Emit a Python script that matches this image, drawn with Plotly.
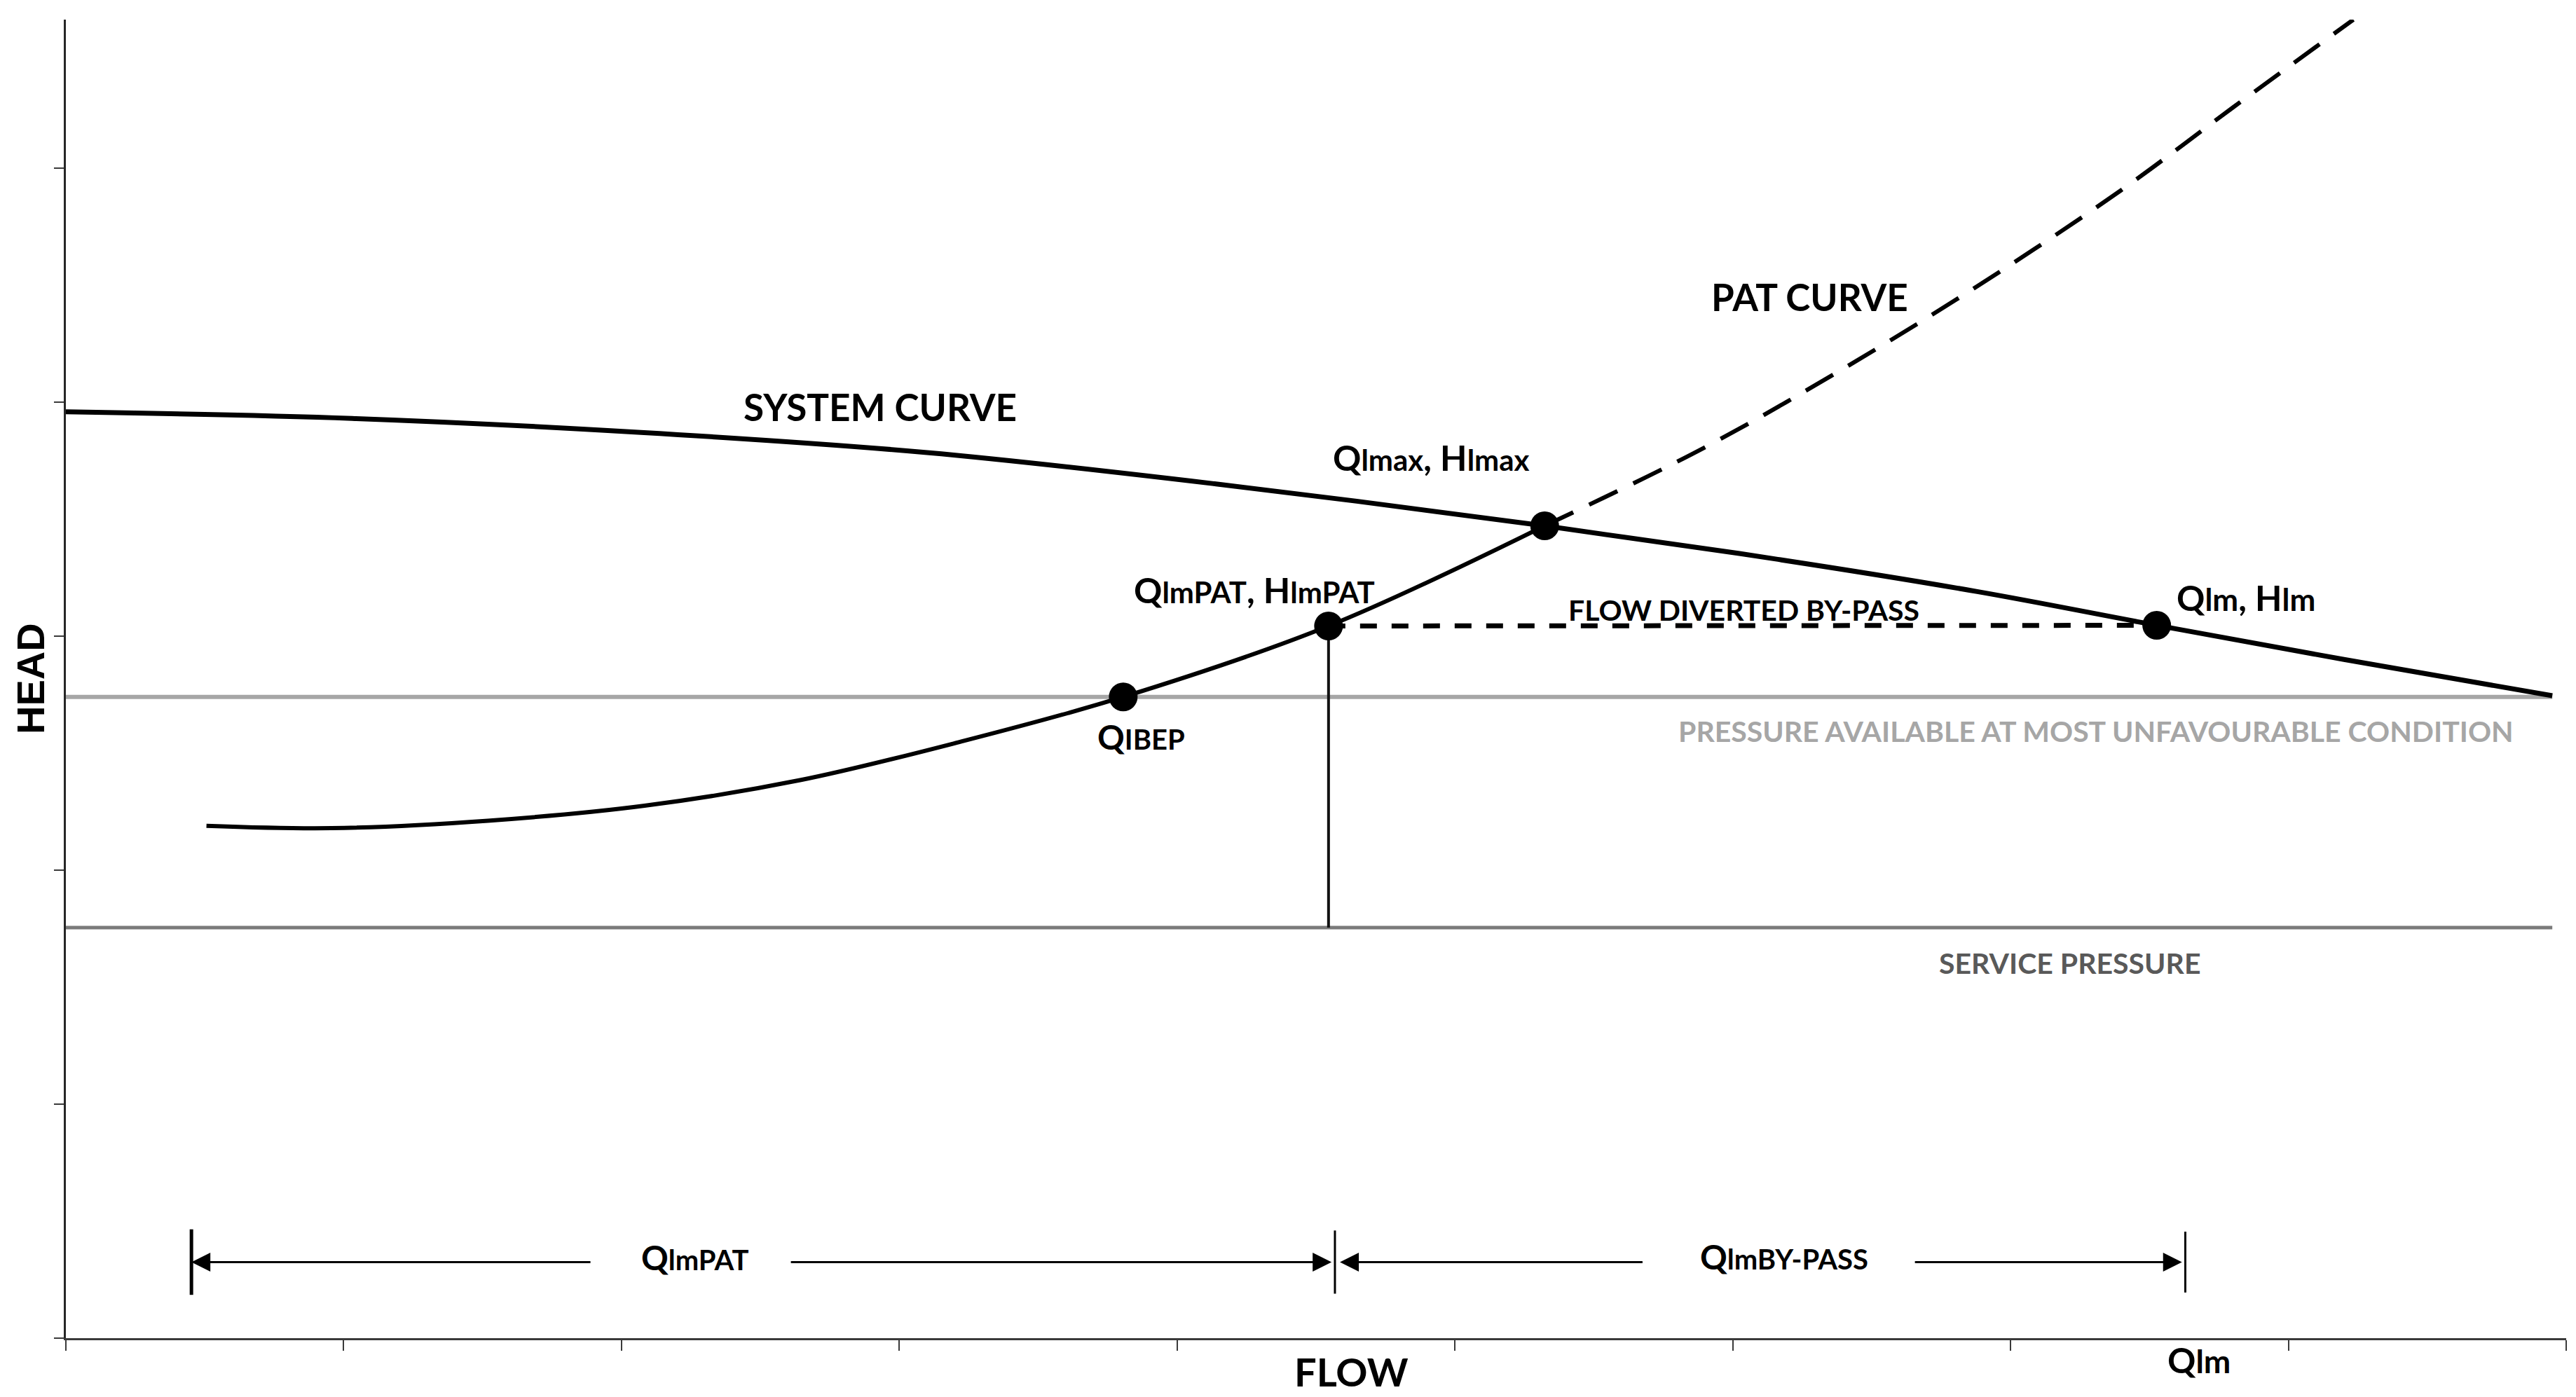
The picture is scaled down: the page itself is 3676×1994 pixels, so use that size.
import plotly.graph_objects as go

# ---------------- data ----------------
# System curve (flow, head)
system_flow = [0.0, 1.03, 2.07, 3.10, 4.14, 5.323, 6.15, 6.88, 7.526, 8.20, 8.95]
system_head = [3.958, 3.930, 3.870, 3.784, 3.650, 3.471, 3.330, 3.190, 3.046, 2.900, 2.745]

# PAT curve, solid part (up to the max point)
pat_flow = [0.506, 0.956, 1.519, 2.083, 2.646, 3.209, 3.806, 4.545, 5.323]
pat_head = [2.189, 2.179, 2.211, 2.275, 2.385, 2.545, 2.740, 3.043, 3.471]

# PAT curve, dashed extension
pat_ext_flow = [5.323, 5.891, 6.393, 6.896, 7.399, 7.801, 8.234]
pat_ext_head = [3.471, 3.801, 4.139, 4.507, 4.906, 5.259, 5.634]

# Characteristic points
point_names = ["QIBEP", "QlmPAT", "Qlmax", "Qlm"]
point_flow = [3.806, 4.545, 5.323, 7.526]
point_head = [2.740, 3.043, 3.471, 3.046]

# Reference pressure levels
pressure_available = 2.74
service_pressure = 1.754
flow_end = 8.95

# Flow ranges shown at the bottom
range_bounds = [0.452, 4.568, 7.629]
range_level = 0.325

# axes
x_ticks = [0, 1, 2, 3, 4, 5, 6, 7, 8, 9]
y_ticks = [0, 1, 2, 3, 4, 5]
x_max = 9
y_max = 5.634

FONT = "Lato"
BLACK = "#000000"

fig = go.Figure()

# horizontal reference lines
fig.add_trace(go.Scatter(x=[0, flow_end], y=[pressure_available, pressure_available],
                         mode="lines", line=dict(color="#a6a6a6", width=6), hoverinfo="skip"))
fig.add_trace(go.Scatter(x=[0, flow_end], y=[service_pressure, service_pressure],
                         mode="lines", line=dict(color="#7a7a7a", width=5), hoverinfo="skip"))

# vertical line from QlmPAT down to service pressure
fig.add_trace(go.Scatter(x=[point_flow[1], point_flow[1]], y=[service_pressure, point_head[1]],
                         mode="lines", line=dict(color="#111111", width=4), hoverinfo="skip"))

# by-pass dashed line
fig.add_trace(go.Scatter(x=[point_flow[1], point_flow[3]], y=[point_head[1], point_head[3]],
                         mode="lines", line=dict(color=BLACK, width=7, dash="24px,21px"), hoverinfo="skip"))

# system curve
fig.add_trace(go.Scatter(x=system_flow, y=system_head, mode="lines",
                         line=dict(color=BLACK, width=7, shape="spline", smoothing=1.0), hoverinfo="skip"))

# PAT curve
fig.add_trace(go.Scatter(x=pat_flow, y=pat_head, mode="lines",
                         line=dict(color=BLACK, width=6, shape="spline", smoothing=1.0), hoverinfo="skip"))
fig.add_trace(go.Scatter(x=pat_ext_flow, y=pat_ext_head, mode="lines",
                         line=dict(color=BLACK, width=6, shape="spline", smoothing=1.0, dash="45px,25px"),
                         hoverinfo="skip"))

# points
fig.add_trace(go.Scatter(x=point_flow, y=point_head, mode="markers",
                         marker=dict(color=BLACK, size=41, line=dict(width=0)), hoverinfo="skip"))

# bracket ticks for flow ranges
bracket_half = [0.14, 0.135, 0.13]
bracket_width = [5, 3, 3]
for xb, hb, wb in zip(range_bounds, bracket_half, bracket_width):
    fig.add_trace(go.Scatter(x=[xb, xb], y=[range_level - hb, range_level + hb], mode="lines",
                             line=dict(color=BLACK, width=wb), hoverinfo="skip"))

annotations = []

# range arrows: (tail, head)
arrows = [
    (1.892, range_bounds[0]),
    (2.606, range_bounds[1] - 0.012),
    (5.679, range_bounds[1] + 0.018),
    (6.652, range_bounds[2] - 0.012),
]
for tail, head in arrows:
    annotations.append(dict(x=head, y=range_level, ax=tail, ay=range_level, xref="x", yref="y",
                            axref="x", ayref="y", text="", showarrow=True, arrowhead=2,
                            arrowsize=1.8, arrowwidth=3, arrowcolor=BLACK))


def lab(text, x, y, size, color=BLACK, xanchor="center", yanchor="middle", **kw):
    d = dict(text=text, x=x, y=y, xref="x", yref="y", showarrow=False,
             xanchor=xanchor, yanchor=yanchor,
             font=dict(family=FONT, size=size, color=color, weight=700))
    d.update(kw)
    annotations.append(d)


def sub(s, size):
    return f"<span style='font-size:{size}px'>{s}</span>"


lab("SYSTEM CURVE", 2.930, 3.981, 53)
lab("PAT CURVE", 6.277, 4.450, 53)
lab("Q" + sub("lmax", 42) + ", H" + sub("lmax", 42), 4.914, 3.762, 50)
lab("Q" + sub("lmPAT", 42) + ", H" + sub("lmPAT", 42), 4.279, 3.196, 50)
lab("Q" + sub("IBEP", 40), 3.870, 2.570, 48)
lab("Q" + sub("lm", 44) + ", H" + sub("lm", 44), 7.847, 3.165, 50)
lab("FLOW DIVERTED BY-PASS", 6.039, 3.113, 41)
lab("PRESSURE AVAILABLE AT MOST UNFAVOURABLE CONDITION", 7.307, 2.595, 41, color="#a6a6a6")
lab("SERVICE PRESSURE", 7.214, 1.604, 41, color="#595959")
lab("Q" + sub("lmPAT", 40), 2.265, 0.345, 48)
lab("Q" + sub("lmBY-PASS", 40), 6.186, 0.350, 48)

# axis titles and bottom label
annotations.append(dict(text="HEAD", x=0, y=0.5, xref="paper", yref="paper", showarrow=False,
                        xanchor="center", yanchor="middle", xshift=-51, textangle=-90,
                        font=dict(family="Liberation Sans", size=56, color=BLACK, weight=700)))
annotations.append(dict(text="FLOW", x=4.627, y=0, xref="x", yref="paper", showarrow=False,
                        xanchor="center", yanchor="middle", yshift=-47,
                        font=dict(family=FONT, size=56, color=BLACK, weight=700)))
annotations.append(dict(text="Q" + sub("lm", 46), x=7.679, y=0, xref="x", yref="paper", showarrow=False,
                        xanchor="center", yanchor="middle", yshift=-31,
                        font=dict(family=FONT, size=50, color=BLACK, weight=700)))

# page body has an 8px margin: compensate so the plot area lands where the reference has it
fig.update_layout(
    width=3660, height=1978, autosize=False,
    margin=dict(l=86, r=6, t=20, b=76),
    plot_bgcolor="white", paper_bgcolor="white", showlegend=False,
    annotations=annotations,
    xaxis=dict(range=[0, x_max], tickvals=x_ticks, showticklabels=False, showgrid=False, zeroline=False,
               showline=True, linecolor="#3a3a3a", linewidth=3, ticks="outside", ticklen=15,
               tickwidth=2, tickcolor="#3a3a3a"),
    yaxis=dict(range=[0, y_max], tickvals=y_ticks, showticklabels=False, showgrid=False, zeroline=False,
               showline=True, linecolor="#262626", linewidth=3, ticks="outside", ticklen=14,
               tickwidth=2, tickcolor="#3a3a3a"),
)

fig.write_html("out.html")
